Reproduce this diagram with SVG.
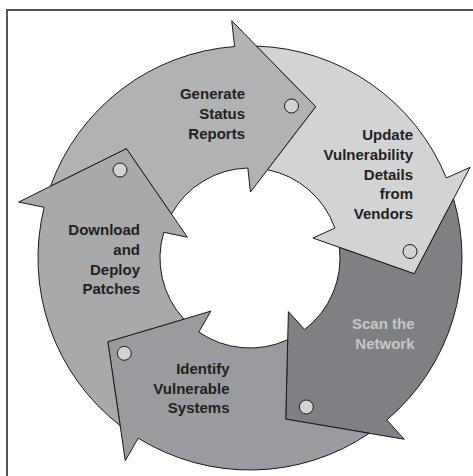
<svg xmlns="http://www.w3.org/2000/svg" width="473" height="476" viewBox="0 0 473 476">
<style>
.arrow{stroke:#1a1a1a;stroke-width:1;stroke-linejoin:miter}
.dot{fill:#d1d2d4;stroke:#1a1a1a;stroke-width:1}
.lbl{font-family:"Liberation Sans",Arial,sans-serif;font-weight:bold;font-size:15px;fill:#231f20;text-anchor:end}
.lbl.light{fill:#c6c7c9}
</style>
<rect width="473" height="476" fill="#ffffff"/>
<g id="frame" fill="none" stroke="#555555" stroke-width="2">
<path d="M7,476 V10 H473"/>
</g>
<g id="connectors"></g>
<g id="generate">
<path class="arrow" fill="#b1b2b4" d="M50.50,186.29 A212,212 0 0 1 234.59,46.56 L231.74,20.70 L315.79,106.69 L250.46,192.00 L247.83,168.03 A90,90 0 0 0 171.45,214.07 L126.42,148.67 Z"/>
<circle class="dot" cx="291.5" cy="106" r="7"/>
<text class="lbl" x="245" y="99.3">Generate</text>
<text class="lbl" x="245" y="119.3">Status</text>
<text class="lbl" x="245" y="139.3">Reports</text>
</g>
<g id="update">
<path class="arrow" fill="#d2d3d5" d="M256.55,46.10 A212,212 0 0 1 446.33,178.00 L470.04,167.31 L414.24,273.82 L312.91,238.04 L334.90,228.13 A90,90 0 0 0 267.51,169.72 L315.79,106.69 Z"/>
<circle class="dot" cx="410" cy="251.5" r="7"/>
<text class="lbl" x="413" y="140">Update</text>
<text class="lbl" x="413" y="159.75">Vulnerability</text>
<text class="lbl" x="413" y="179.5">Details</text>
<text class="lbl" x="413" y="199.25">from</text>
<text class="lbl" x="413" y="219">Vendors</text>
</g>
<g id="scan">
<path class="arrow" fill="#7f8083" d="M453.55,198.74 A212,212 0 0 1 386.75,420.00 L404.25,439.25 L285.71,419.09 L288.42,311.66 L304.63,329.52 A90,90 0 0 0 339.37,247.37 L414.24,273.82 Z"/>
<circle class="dot" cx="306.3" cy="407" r="7"/>
<text class="lbl light" x="414.5" y="329.3">Scan the</text>
<text class="lbl light" x="414.5" y="348.7">Network</text>
</g>
<g id="identify">
<path class="arrow" fill="#9a9b9e" d="M369.28,433.26 A212,212 0 0 1 138.19,438.12 L125.29,460.71 L107.83,341.74 L210.83,311.12 L198.87,332.06 A90,90 0 0 0 287.72,339.71 L285.71,419.09 Z"/>
<circle class="dot" cx="124.3" cy="353.3" r="7"/>
<text class="lbl" x="229.5" y="374.3">Identify</text>
<text class="lbl" x="229.5" y="393.5">Vulnerable</text>
<text class="lbl" x="229.5" y="412.6">Systems</text>
</g>
<g id="download">
<path class="arrow" fill="#a8a9ab" d="M120.15,425.58 A212,212 0 0 1 44.15,207.32 L18.67,202.04 L126.42,148.67 L187.37,237.17 L163.76,232.26 A90,90 0 0 0 183.96,319.15 L107.83,341.74 Z"/>
<circle class="dot" cx="120" cy="170" r="7"/>
<text class="lbl" x="140" y="235.4">Download</text>
<text class="lbl" x="140" y="255">and</text>
<text class="lbl" x="140" y="274.7">Deploy</text>
<text class="lbl" x="140" y="294.3">Patches</text>
</g>
</svg>
